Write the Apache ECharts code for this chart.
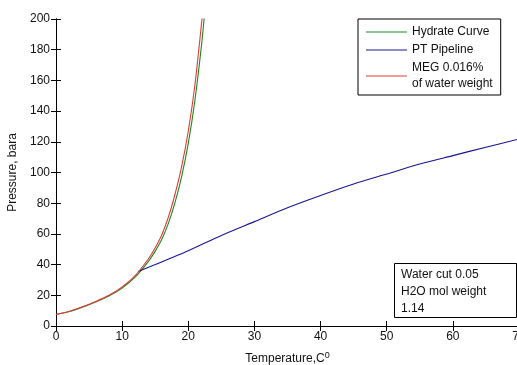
<!DOCTYPE html>
<html>
<head>
<meta charset="utf-8">
<script src="https://cdn.jsdelivr.net/npm/echarts@6/dist/echarts.min.js"></script>
<style>
  html, body { margin: 0; padding: 0; background: #fff; }
  #chart { width: 517px; height: 365px; }
</style>
</head>
<body>
<div id="chart"></div>
<script>
// Hydrate equilibrium curve, temperature (C) vs pressure (bara)
const hydrateT = [0, 2, 4, 6, 8, 10, 12, 14, 15, 16, 17, 18, 19, 20, 21, 22, 22.5];
const hydrateP = [7.5, 9.4, 12.3, 15.7, 19.6, 24.8, 32, 42.3, 48.8, 56.5, 67, 80.5, 97.5, 119, 147, 183, 205];

// Hydrate curve shifted by MEG inhibitor
const megT = [0, 2, 4, 6, 8, 10, 12, 14, 15, 16, 17, 18, 19, 20, 21, 22, 22.3];
const megP = [7.5, 9.5, 12.5, 16, 20, 25.5, 33, 44, 51, 59.5, 71, 86, 104, 127, 157, 197, 210];

// Pipeline pressure/temperature profile
const pipeT = [12.4, 15, 20, 25, 30, 35, 40, 45, 50, 55, 60, 65, 70];
const pipeP = [35.5, 40, 49, 59, 68, 77, 85, 92.5, 99, 105.5, 111, 116.5, 121.8];

const xTicks = [0, 10, 20, 30, 40, 50, 60, 70];
const yTicks = [0, 20, 40, 60, 80, 100, 120, 140, 160, 180, 200];

const seriesNames = ['Hydrate Curve', 'PT Pipeline', 'MEG 0.016%\nof water weight'];
const noteLines = ['Water cut 0.05', 'H2O mol weight', '1.14'];

const FONT = "'Liberation Sans', Arial, sans-serif";
const zip = (xs, ys) => xs.map((x, i) => [x, ys[i]]);

const chart = echarts.init(document.getElementById('chart'), null, { renderer: 'canvas' });

const tickAxisCommon = {
  type: 'value',
  min: 0,
  axisLine: { show: true, lineStyle: { color: '#000', width: 1 } },
  axisTick: { show: true, inside: true, length: 5, lineStyle: { color: '#000', width: 1 } },
  splitLine: { show: false }
};

const lineSeries = (name, xs, ys, color) => ({
  name: name,
  type: 'line',
  data: zip(xs, ys),
  showSymbol: false,
  smooth: 0.25,
  clip: true,
  color: color,
  lineStyle: { width: 1.1, color: color }
});

chart.setOption({
  animation: false,
  backgroundColor: '#fff',
  textStyle: { fontFamily: FONT },
  grid: { left: 56, top: 19, width: 463, height: 307, containLabel: false, outerBoundsMode: 'none' },
  title: {
    text: noteLines.join('\n'),
    left: 394,
    top: 263,
    padding: [3, 30, 1, 7],
    borderColor: '#000',
    borderWidth: 1,
    backgroundColor: '#fff',
    textStyle: { fontFamily: FONT, fontSize: 12, fontWeight: 'normal', color: '#111', lineHeight: 17 }
  },
  legend: {
    orient: 'vertical',
    left: 358,
    top: 19,
    padding: [5, 8, 3, 8],
    itemGap: 2,
    itemWidth: 41,
    itemHeight: 1,
    icon: 'rect',
    borderColor: '#000',
    borderWidth: 1,
    backgroundColor: '#fff',
    textStyle: { fontFamily: FONT, fontSize: 12, color: '#111', lineHeight: 16 },
    data: seriesNames
  },
  xAxis: [
    Object.assign({}, tickAxisCommon, {
      position: 'bottom',
      max: 70,
      interval: 10,
      axisLabel: { margin: 5, fontFamily: FONT, fontSize: 12, color: '#111',
        formatter: v => (xTicks.includes(v) ? String(v) : '') },
      name: '{a|Temperature,C}{b|0}',
      nameLocation: 'middle',
      nameGap: 25,
      nameTextStyle: {
        fontFamily: FONT, color: '#111',
        rich: {
          a: { fontFamily: FONT, fontSize: 12, color: '#111', verticalAlign: 'bottom', lineHeight: 14 },
          b: { fontFamily: FONT, fontSize: 9, color: '#111', verticalAlign: 'top', lineHeight: 14, padding: [0, 0, 6, 0] }
        }
      }
    }),
    Object.assign({}, tickAxisCommon, {
      position: 'top',
      max: 70,
      interval: 10,
      axisLabel: { show: false }
    })
  ],
  yAxis: [
    Object.assign({}, tickAxisCommon, {
      position: 'left',
      max: 200,
      interval: 20,
      axisLabel: { margin: 6, fontFamily: FONT, fontSize: 12, color: '#111',
        formatter: v => (yTicks.includes(v) ? String(v) : '') },
      name: 'Pressure, bara',
      nameLocation: 'middle',
      nameGap: 28,
      nameTextStyle: { fontFamily: FONT, fontSize: 12, color: '#111' }
    }),
    Object.assign({}, tickAxisCommon, {
      position: 'right',
      max: 200,
      interval: 20,
      axisLabel: { show: false }
    })
  ],
  series: [
    lineSeries(seriesNames[0], hydrateT, hydrateP, '#1f8a1f'),
    lineSeries(seriesNames[1], pipeT, pipeP, '#16168c'),
    lineSeries(seriesNames[2], megT, megP, '#e23a3a')
  ]
});
</script>
</body>
</html>
